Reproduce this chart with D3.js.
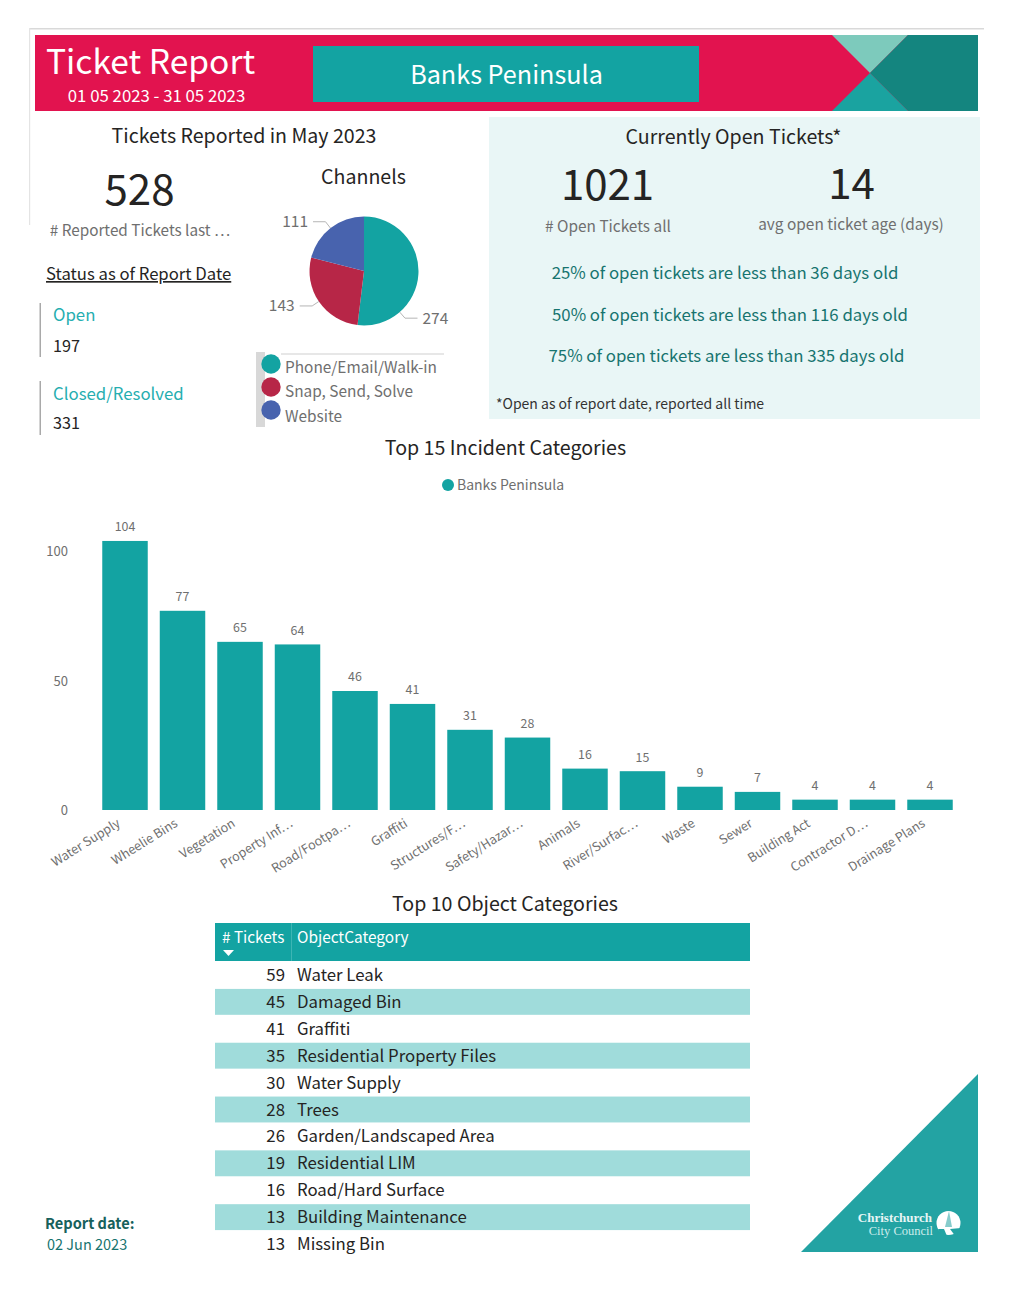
<!DOCTYPE html>
<html><head><meta charset="utf-8">
<script src="https://cdn.jsdelivr.net/npm/d3@7/dist/d3.min.js"></script>
<style>
html,body{margin:0;padding:0;background:#fff}
svg{display:block}
text{font-family:"Noto Sans CJK SC","Noto Sans",sans-serif}
</style></head><body>
<svg id="c" width="1012" height="1293"></svg>
<script>
const incidentCategories=["Water Supply","Wheelie Bins","Vegetation","Property Inf…","Road/Footpa…","Graffiti","Structures/F…","Safety/Hazar…","Animals","River/Surfac…","Waste","Sewer","Building Act","Contractor D…","Drainage Plans"];
const incidentValues=[104,77,65,64,46,41,31,28,16,15,9,7,4,4,4];
const yTicks=[0,50,100];
const channelNames=["Phone/Email/Walk-in","Snap, Send, Solve","Website"];
const channelValues=[274,143,111];
const channelColors=["#13a3a2","#b72647","#4863ae"];
const channelLeaderAngles=[139,236,322];
const objectCounts=[59,45,41,35,30,28,26,19,16,13,13];
const objectNames=["Water Leak","Damaged Bin","Graffiti","Residential Property Files","Water Supply","Trees","Garden/Landscaped Area","Residential LIM","Road/Hard Surface","Building Maintenance","Missing Bin"];
const percentileLines=["25% of open tickets are less than 36 days old","50% of open tickets are less than 116 days old","75% of open tickets are less than 335 days old"];

const svg=d3.select("#c");
const TEAL="#13a3a2",DARK="#252423",GREY="#6f6f6f";
function T(x,y,s,size,fill,anchor,extra){
  const t=svg.append("text").attr("x",x).attr("y",y).attr("font-size",size).attr("fill",fill).attr("text-anchor",anchor||"start").text(s);
  if(extra) extra(t);
  return t;
}
function R(x,y,w,h,f){return svg.append("rect").attr("x",x).attr("y",y).attr("width",w).attr("height",h).attr("fill",f);}
function P(pts,f){return svg.append("polygon").attr("points",pts.map(p=>p.join(",")).join(" ")).attr("fill",f);}

// frame
R(29,28,955,1.5,"#d9d9d9");R(29,28,1.2,197,"#e4e4e4");
// header
R(35,35,943,76,"#e2134f");
P([[832,35],[908,35],[870,73]],"#7dcabc");
P([[908,35],[978,35],[978,111],[908,111],[870,73]],"#14857f");
P([[832,111],[870,73],[908,111]],"#1aa3a0");
R(313,46,386,56,TEAL);
T(46,73.5,"Ticket Report",33.6,"#fff");
T(156.5,102,"01 05 2023 - 31 05 2023",16.8,"#fff","middle");
T(506.5,84,"Banks Peninsula",25.2,"#fff","middle");

// left block
T(244,143,"Tickets Reported in May 2023",19.6,DARK,"middle");
T(139.5,205,"528",42,DARK,"middle");
T(140,236,"# Reported Tickets last …",15.3,GREY,"middle");
T(46,280,"Status as of Report Date",16.7,DARK,"start",t=>t.attr("text-decoration","underline"));
R(39.5,303,1.5,54,"#a9a9a9");R(39.5,381,1.5,54,"#a9a9a9");
T(53,321,"Open",16.8,"#26aeb0");
T(53,351.5,"197",16.2,DARK);
T(53,399.5,"Closed/Resolved",16.8,"#26aeb0");
T(53,429,"331",16.2,DARK);

// pie
T(363.5,184,"Channels",19.6,DARK,"middle");
const cx=364,cy=271,r=54.5;
const pie=d3.pie().sort(null).value(d=>d)(channelValues);
const arc=d3.arc().innerRadius(0).outerRadius(r);
const gp=svg.append("g").attr("transform",`translate(${cx},${cy})`);
gp.selectAll("path").data(pie).join("path").attr("d",arc).attr("fill",(d,i)=>channelColors[i]);
channelLeaderAngles.forEach((deg,i)=>{
  const a=deg*Math.PI/180,sx=Math.sin(a),sy=-Math.cos(a);
  const p0=[cx+sx*r,cy+sy*r],p1=[cx+sx*(r+8),cy+sy*(r+8)];
  const dir=sx>0?1:-1;
  const p2=[p1[0]+dir*12.5,p1[1]];
  svg.append("polyline").attr("points",[p0,p1,p2].map(p=>p.join(",")).join(" ")).attr("fill","none").attr("stroke","#b5b5b5").attr("stroke-width",1);
  T(p2[0]+dir*5,p2[1]+5.5,String(channelValues[i]),15.5,GREY,dir>0?"start":"end");
});
// pie legend
R(256,352,9,75,"#d8d8d8");
R(281,353.5,163,1,"#cfcfcf");
channelNames.forEach((n,i)=>{
  svg.append("circle").attr("cx",271).attr("cy",364+i*23).attr("r",9.7).attr("fill",channelColors[i]);
  T(285,372.7+i*24.7,n,15.4,GREY);
});

// right panel
R(489,117,491,302,"#e9f6f6");
T(733.5,144,"Currently Open Tickets*",19.6,DARK,"middle");
T(607.5,200,"1021",42,DARK,"middle");
T(851.5,199,"14",42,DARK,"middle");
T(608,231.5,"# Open Tickets all",15.4,GREY,"middle");
T(851,230,"avg open ticket age (days)",15.4,GREY,"middle");
const pctX=[725,730,726.5],pctY=[278.5,321,362];
percentileLines.forEach((s,i)=>T(pctX[i],pctY[i],s,16.8,"#17746f","middle"));
T(496,409,"*Open as of report date, reported all time",14,"#333");

// bar chart
T(505.5,455,"Top 15 Incident Categories",19.6,DARK,"middle");
svg.append("circle").attr("cx",448).attr("cy",485).attr("r",6).attr("fill",TEAL);
T(457,490,"Banks Peninsula",14,GREY);
const x=d3.scaleBand().domain(incidentCategories).range([96.25,958.75]).paddingInner(.209).paddingOuter(.1045);
const y=d3.scaleLinear().domain([0,100]).range([810,551.3]);
svg.append("g").selectAll("rect").data(incidentValues).join("rect")
  .attr("x",(d,i)=>x(incidentCategories[i])).attr("width",x.bandwidth())
  .attr("y",d=>y(d)).attr("height",d=>y(0)-y(d)).attr("fill",TEAL);
svg.append("g").selectAll("text").data(incidentValues).join("text")
  .attr("x",(d,i)=>x(incidentCategories[i])+x.bandwidth()/2).attr("y",d=>y(d)-9.5)
  .attr("text-anchor","middle").attr("font-size",12.4).attr("fill",GREY).text(d=>d);
const ya=svg.append("g").attr("transform","translate(68,0.5)").call(d3.axisLeft(y).tickValues(yTicks).tickSize(0).tickPadding(0));
ya.select(".domain").remove();
ya.selectAll("text").attr("font-size",13).attr("fill",GREY).attr("font-family",null);
const xa=svg.append("g").attr("transform","translate(0,810)").call(d3.axisBottom(x).tickSize(0));
xa.select(".domain").remove();
xa.selectAll("text").attr("font-size",12.6).attr("fill",GREY).attr("font-family",null)
  .attr("text-anchor","end").attr("transform","translate(-10,6) rotate(-32)").attr("dy","0.9em").attr("y",0).attr("x",0);

// table
T(505,911,"Top 10 Object Categories",19.6,DARK,"middle");
R(215,923,535,38,TEAL);
R(291,923,1,38,"#3db5b4");
T(222,943,"# Tickets",15.3,"#fff");
T(297,943,"ObjectCategory",15.4,"#fff");
P([[223,950],[234,950],[228.5,956]],"#fff");
const rowY=d3.scaleBand().domain(d3.range(objectCounts.length)).range([962,1258]);
objectCounts.forEach((c,i)=>{
  const ry=rowY(i);
  if(i%2==1) R(215,ry,535,rowY.bandwidth()-1,"#a0dcdb");
  T(285,ry+19,String(c),16.8,DARK,"end");
  T(297,ry+19,objectNames[i],16.8,DARK);
});

// report date
T(45,1228.5,"Report date:",14.6,"#17615c","start",t=>t.attr("font-weight",700));
T(47,1249.5,"02 Jun 2023",14.5,"#17746f");

// logo
P([[978,1074],[978,1252],[801,1252]],"#23a3a3");
T(932,1222,"Christchurch",13,"#e8f6f6","end",t=>t.attr("font-weight",700).style("font-family","'Liberation Serif',serif"));
T(933,1234.5,"City Council",12.5,"#cdeceb","end",t=>t.style("font-family","'Liberation Serif',serif"));
svg.append("circle").attr("cx",948.5).attr("cy",1223).attr("r",12).attr("fill","#fff");
P([[949,1211],[952,1227],[945,1227]],"#23a3a3").attr("fill-opacity",.55);
P([[938,1229],[944,1229],[947,1236],[941,1235]],"#23a3a3");
P([[950,1229],[961,1228],[956,1237],[953,1233]],"#23a3a3");
</script></body></html>
